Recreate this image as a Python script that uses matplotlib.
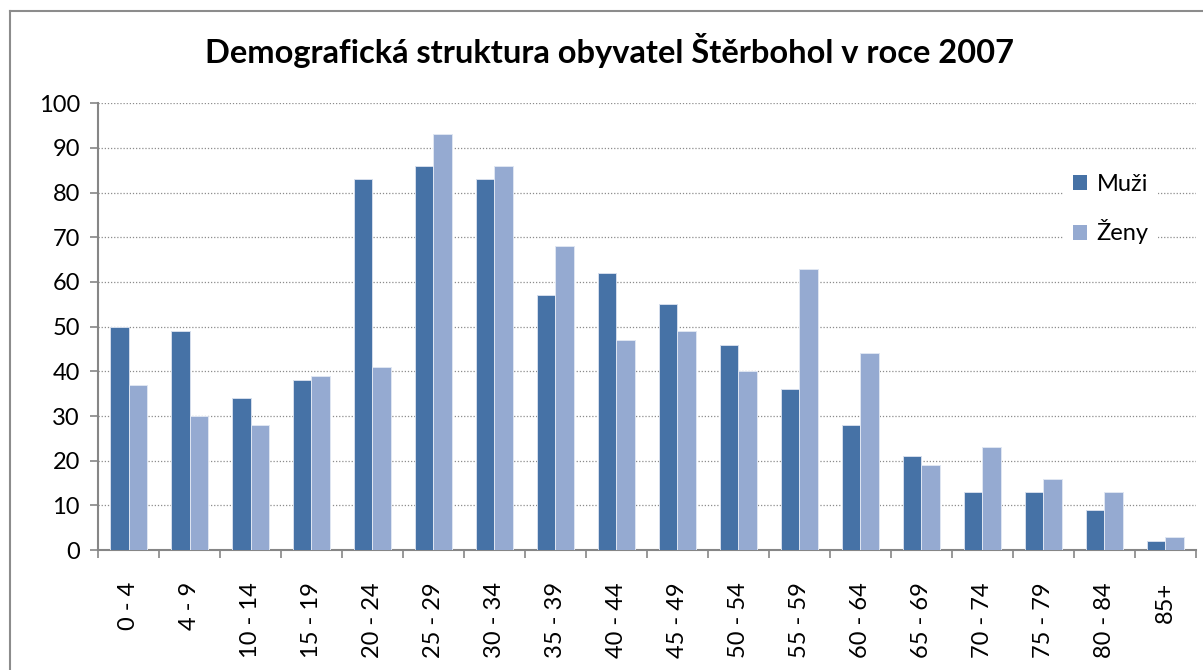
import numpy as np
import matplotlib.pyplot as plt
from matplotlib.patches import Patch
from matplotlib.lines import Line2D

categories = ['0 - 4', '4 - 9', '10 - 14', '15 - 19', '20 - 24', '25 - 29', '30 - 34',
              '35 - 39', '40 - 44', '45 - 49', '50 - 54', '55 - 59', '60 - 64', '65 - 69',
              '70 - 74', '75 - 79', '80 - 84', '85+']
muzi = [50, 49, 34, 38, 83, 86, 83, 57, 62, 55, 46, 36, 28, 21, 13, 13, 9, 2]
zeny = [37, 30, 28, 39, 41, 93, 86, 68, 47, 49, 40, 63, 44, 19, 23, 16, 13, 3]

plt.rcParams['font.family'] = ['Lato', 'DejaVu Sans']

fig = plt.figure(figsize=(12.03, 6.7), dpi=100)
ax = fig.add_axes([0.0815, 0.179, 0.9125, 0.667])

x = np.arange(len(categories))
w = 0.3
ax.bar(x - w / 2, muzi, w, color='#4672A6', edgecolor='#d5deec', linewidth=0.7, zorder=3)
ax.bar(x + w / 2, zeny, w, color='#95AAD1', edgecolor='#dfe6f2', linewidth=0.7, zorder=3)

ax.set_xlim(-0.5, len(categories) - 0.5)
ax.set_ylim(0, 100)
ax.set_yticks(range(0, 101, 10))
ax.yaxis.grid(True, linestyle=(0, (1, 1.5)), color='#8c8c8c', linewidth=0.9, zorder=0)
ax.set_axisbelow(True)

ax.set_xticks(x)
ax.set_xticklabels(categories, rotation=90)
ax.set_xticks(np.arange(-0.5, len(categories)), minor=True)
ax.tick_params(axis='x', which='major', length=0, pad=23, labelsize=17)
ax.tick_params(axis='x', which='minor', length=6, color='#868686', width=1.2)
ax.tick_params(axis='y', length=6, color='#868686', width=1.2, labelsize=17, pad=7)

for s in ['top', 'right']:
    ax.spines[s].set_visible(False)
for s in ['left', 'bottom']:
    ax.spines[s].set_color('#868686')
    ax.spines[s].set_linewidth(1.5)

fig.suptitle('Demografická struktura obyvatel Štěrbohol v roce 2007', x=0.507, y=0.950,
             fontsize=23.5, fontweight='bold')

handles = [Patch(facecolor='#4672A6'), Patch(facecolor='#95AAD1')]
leg = fig.legend(handles, ['Muži', 'Ženy'], loc='upper left', bbox_to_anchor=(0.884, 0.755),
                 frameon=True, fontsize=17, labelspacing=1.05, handlelength=0.6,
                 handleheight=0.6, handletextpad=0.4, borderpad=0.4, borderaxespad=0)
leg.get_frame().set_facecolor('white')
leg.get_frame().set_edgecolor('none')
leg.get_frame().set_alpha(1)

# outer chart border (left and top edges visible)
fig.add_artist(Line2D([0.0083, 0.0083], [0, 0.9836], color='#8c8c8c', linewidth=1.5))
fig.add_artist(Line2D([0.0083, 1], [0.9836, 0.9836], color='#8c8c8c', linewidth=1.5))

fig.savefig('out.png', dpi=100)
